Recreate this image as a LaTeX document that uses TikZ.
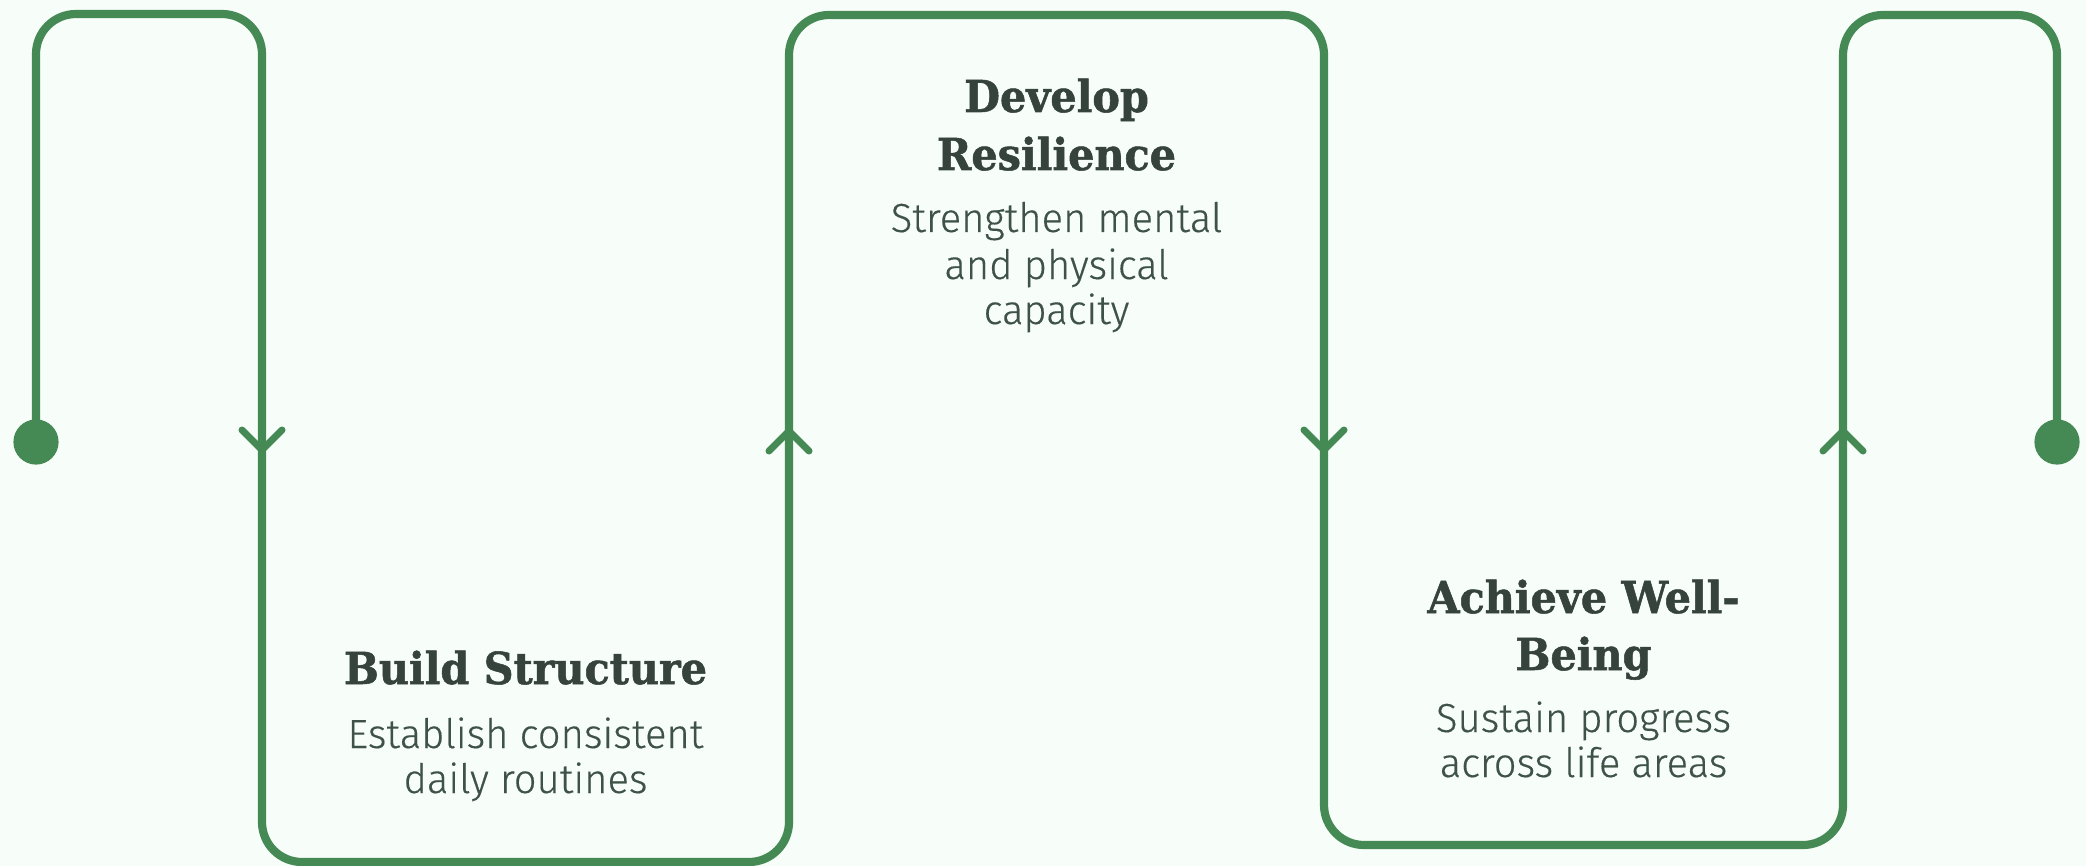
\documentclass[tikz,border=0pt]{standalone}
\usepackage{fontspec}
\newfontfamily\headserif{DejaVu Serif}[FakeStretch=0.94, FakeBold=1.2]
\newfontfamily\bodysans{Fira Sans Light}[FakeStretch=0.985, FakeBold=0.3]

\definecolor{trailgreen}{HTML}{458A54}
\definecolor{headink}{HTML}{36433C}
\definecolor{bodyink}{HTML}{3E5247}
\definecolor{paper}{HTML}{F7FDF9}

\tikzset{
  trail/.style={draw=trailgreen, line width=4.1pt, rounded corners=20pt, line cap=round},
  chevron/.style={draw=trailgreen, line width=3.5pt, line cap=round, line join=round},
  enddot/.style={circle, fill=trailgreen, minimum size=22.6pt, inner sep=0pt},
  headline/.style={anchor=base, inner sep=0pt, text=headink,
    font=\headserif\bfseries\fontsize{22}{26}\selectfont},
  bodyline/.style={anchor=base, inner sep=0pt, text=bodyink,
    font=\bodysans\fontsize{20.3}{24}\selectfont},
  pics/downchev/.style={code={\draw[chevron] (-20,-20) -- (0,0) -- (20,-20);}},
  pics/upchev/.style={code={\draw[chevron] (-20,20) -- (0,0) -- (20,20);}},
}

\begin{document}
\begin{tikzpicture}[x=0.5pt, y=-0.5pt]
  % canvas
  \fill[paper] (0,0) rectangle (2086,866);
  \useasboundingbox (0,0) rectangle (2086,866);

  % end points of the trail
  \node[enddot] (start) at (36,442) {};
  \node[enddot] (finish) at (2057,442) {};

  % corners of the meander
  \coordinate (c1) at (36,14);
  \coordinate (c2) at (262,14);
  \coordinate (c3) at (262,862);
  \coordinate (c4) at (789,862);
  \coordinate (c5) at (789,15);
  \coordinate (c6) at (1324,15);
  \coordinate (c7) at (1324,845);
  \coordinate (c8) at (1843,845);
  \coordinate (c9) at (1843,15);
  \coordinate (c10) at (2057,15);

  \draw[trail] (start.center) -- (c1) -- (c2) -- (c3) -- (c4) -- (c5) -- (c6)
    -- (c7) -- (c8) -- (c9) -- (c10) -- (finish.center);

  % direction marks on the vertical runs
  \coordinate (d1) at (262,450);
  \coordinate (d2) at (789,431);
  \coordinate (d3) at (1324,450);
  \coordinate (d4) at (1843,431);
  \pic at (d1) {downchev};
  \pic at (d2) {upchev};
  \pic at (d3) {downchev};
  \pic at (d4) {upchev};

  % step 1
  \node[headline] (t1) at (525.5,684) {Build Structure};
  \node[bodyline] (b1a) at (525.5,748) {Establish consistent};
  \node[bodyline] (b1b) at (525.5,793) {daily routines};

  % step 2
  \node[headline] (t2a) at (1056.5,112) {Develop};
  \node[headline] (t2b) at (1056.5,170) {Resilience};
  \node[bodyline] (b2a) at (1056.5,232) {Strengthen mental};
  \node[bodyline] (b2b) at (1056.5,279) {and physical};
  \node[bodyline] (b2c) at (1056.5,324) {capacity};

  % step 3
  \node[headline] (t3a) at (1583.5,613) {Achieve Well-};
  \node[headline] (t3b) at (1583.5,670) {Being};
  \node[bodyline] (b3a) at (1583.5,732) {Sustain progress};
  \node[bodyline] (b3b) at (1583.5,777) {across life areas};
\end{tikzpicture}
\end{document}
